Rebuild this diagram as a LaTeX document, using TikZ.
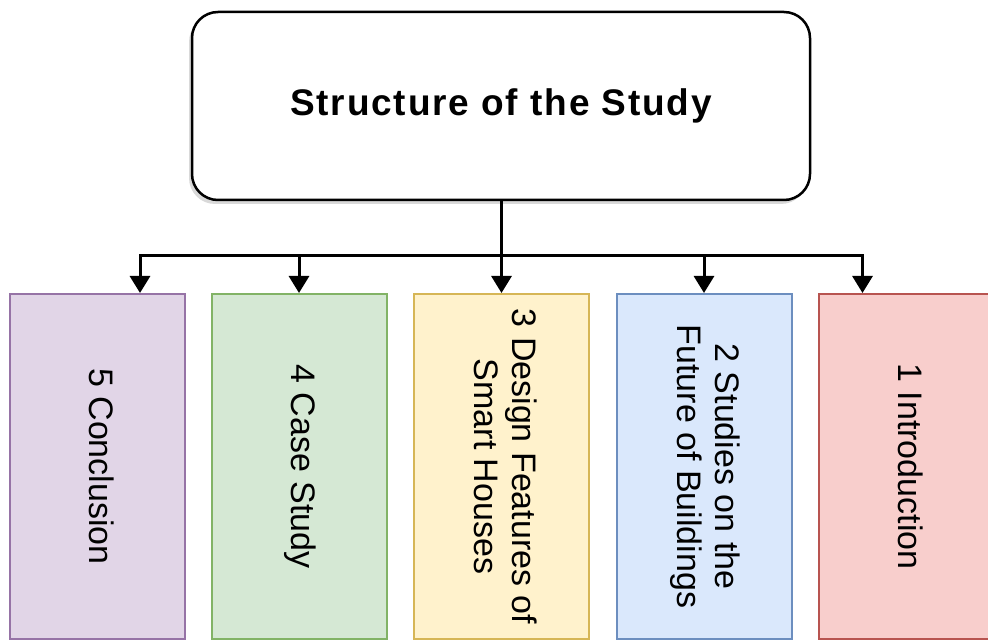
\documentclass[tikz,border=0pt]{standalone}
\usepackage{fontspec}
\setmainfont{Liberation Sans}
\usetikzlibrary{arrows.meta,shadows}
\definecolor{lilac}{HTML}{E1D5E7}
\definecolor{lilacline}{HTML}{9673A6}
\definecolor{mint}{HTML}{D5E8D4}
\definecolor{mintline}{HTML}{82B366}
\definecolor{cream}{HTML}{FFF2CC}
\definecolor{creamline}{HTML}{D6B656}
\definecolor{sky}{HTML}{DAE8FC}
\definecolor{skyline}{HTML}{6C8EBF}
\definecolor{rose}{HTML}{F8CECC}
\definecolor{roseline}{HTML}{B85450}
\newcommand{\vtext}[1]{\rotatebox{-90}{\begin{tabular}{@{}c@{}}#1\end{tabular}}}

\begin{document}
\begin{tikzpicture}[x=1pt,y=1pt,
  head/.style={draw,line width=2.5pt,rounded corners=26pt,fill=white,
    minimum width=618pt,minimum height=188pt,
    font=\fontsize{37}{44}\selectfont\bfseries\addfontfeatures{LetterSpace=5},
    drop shadow={shadow xshift=-3pt,shadow yshift=-4pt,opacity=.3}},
  part/.style={draw,line width=2pt,minimum width=175pt,minimum height=345pt,
    inner sep=0pt,font=\fontsize{34}{38}\selectfont},
  flow/.style={-{Triangle[width=20pt,length=17pt]},line width=3pt}]
\useasboundingbox (0,0) rectangle (988,641);
\node[head] (study) at (501,535) {Structure of the Study};
\node[part,fill=lilac,draw=lilacline] (concl) at (97,174.5) {\vtext{5 Conclusion}};
\node[part,fill=mint,draw=mintline] (case) at (299,174.5) {\vtext{4 Case Study}};
\node[part,fill=cream,draw=creamline] (design) at (501.5,174.5)
  {\vtext{3 Design Features of\\Smart Houses}};
\node[part,fill=sky,draw=skyline] (future) at (704,174.5)
  {\vtext{2 Studies on the\\Future of Buildings}};
\node[part,fill=rose,draw=roseline] (intro) at (906.5,174.5) {\vtext{1 Introduction}};
\coordinate (bus) at (0,385);
% chapters hang off one bus line
\foreach \ch/\dx in {concl/43,case/0,design/0,future/0,intro/-44}
  \draw[flow] (study.south) -- (study.south |- bus) -| ([xshift=\dx]\ch.north);
\end{tikzpicture}
\end{document}
